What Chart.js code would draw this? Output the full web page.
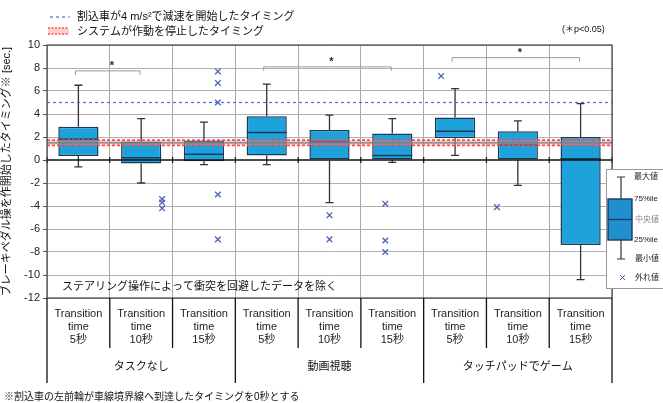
<!DOCTYPE html>
<html><head><meta charset="utf-8">
<script src="https://cdn.jsdelivr.net/npm/chart.js@4/dist/chart.umd.min.js"></script>
<style>html,body{margin:0;padding:0;background:#fff;}#wrap{width:663px;height:403px;position:relative;}</style>
</head><body><div id="wrap"><canvas id="c" width="663" height="403"></canvas></div>
<script>
const categories = [["Transition","time","5秒"],["Transition","time","10秒"],["Transition","time","15秒"],
  ["Transition","time","5秒"],["Transition","time","10秒"],["Transition","time","15秒"],
  ["Transition","time","5秒"],["Transition","time","10秒"],["Transition","time","15秒"]];
const groups = ["タスクなし","動画視聴","タッチパッドでゲーム"];
const whiskerMax = [6.5, 3.6, 3.3, 6.6, 3.9, 3.6, 6.2, 3.4, 4.9];
const q3 =         [2.9, 1.6, 1.7, 3.8, 2.6, 2.3, 3.7, 2.5, 2.0];
const median =     [1.8, 0.2, 0.5, 2.4, 1.6, 0.4, 2.5, 1.3, 0.1];
const q1 =         [0.35,-0.3,-0.1,0.4, 0.0, 0.0, 1.9, 0.0, -7.4];
const whiskerMin = [-0.6,-2.0,-0.4,-0.4,-3.7,-0.2,0.4,-2.2,-10.4];
const outliers = [[], [-3.4,-3.7,-4.2], [7.7,6.7,5.0,-3.0,-6.9], [], [-4.8,-6.9], [-3.8,-7.0,-8.0], [7.3], [-4.1], []];
const yTicks = [10,8,6,4,2,0,-2,-4,-6,-8,-10,-12];
const decelLine = 5.0;
const systemStop = [1.27, 1.5, 1.73];
const sigBrackets = [[0,1,7.75],[3,5,8.1],[6,8,8.9]];

const JP = '"Liberation Sans","Noto Sans CJK JP",sans-serif';
const boxFill = '#1ea2dc', boxEdge = '#1b3a58', crossCol = '#4a63b8';

const outlierPts = [];
outliers.forEach((arr,i)=>arr.forEach(v=>outlierPts.push({x:i,y:v})));

const deco = {
  id:'deco',
  beforeDatasetsDraw(chart){
    const {ctx, chartArea:a, scales:{x,y}} = chart;
    ctx.save();
    ctx.strokeStyle = '#333'; ctx.lineWidth = 1.3;
    for(let i=0;i<categories.length;i++){
      const cx = x.getPixelForValue(i);
      const yt = y.getPixelForValue(whiskerMax[i]), yb = y.getPixelForValue(whiskerMin[i]);
      const y3 = y.getPixelForValue(q3[i]), y1 = y.getPixelForValue(q1[i]);
      ctx.beginPath();
      ctx.moveTo(cx,yt); ctx.lineTo(cx,y3);
      ctx.moveTo(cx,y1); ctx.lineTo(cx,yb);
      ctx.moveTo(cx-4,yt); ctx.lineTo(cx+4,yt);
      ctx.moveTo(cx-4,yb); ctx.lineTo(cx+4,yb);
      ctx.stroke();
    }
    ctx.restore();
  },
  afterDatasetsDraw(chart){
    const {ctx, chartArea:a, scales:{x,y}} = chart;
    ctx.save();
    const meta = chart.getDatasetMeta(0);
    ctx.strokeStyle = boxEdge; ctx.lineWidth = 1.5;
    meta.data.forEach((bar,i)=>{
      const w = bar.width; const ym = y.getPixelForValue(median[i]);
      ctx.beginPath(); ctx.moveTo(bar.x-w/2, ym); ctx.lineTo(bar.x+w/2, ym); ctx.stroke();
    });
    const yd = y.getPixelForValue(decelLine);
    ctx.strokeStyle = '#4a72c4'; ctx.lineWidth = 1.2; ctx.setLineDash([3,3]);
    ctx.beginPath(); ctx.moveTo(a.left,yd); ctx.lineTo(a.right,yd); ctx.stroke();
    const yb1 = y.getPixelForValue(systemStop[0]), yb2 = y.getPixelForValue(systemStop[2]), ybm = y.getPixelForValue(systemStop[1]);
    ctx.setLineDash([]);
    ctx.fillStyle = 'rgba(255,160,160,0.35)';
    ctx.fillRect(a.left, yb2, a.right-a.left, yb1-yb2);
    ctx.strokeStyle = 'rgba(120,120,120,0.75)'; ctx.lineWidth = 2.2;
    ctx.beginPath(); ctx.moveTo(a.left,ybm); ctx.lineTo(a.right,ybm); ctx.stroke();
    ctx.strokeStyle = '#ff4a4a'; ctx.lineWidth = 1.6; ctx.setLineDash([3,2]);
    ctx.beginPath(); ctx.moveTo(a.left,yb1); ctx.lineTo(a.right,yb1);
    ctx.moveTo(a.left,yb2); ctx.lineTo(a.right,yb2); ctx.stroke();
    ctx.setLineDash([]);
    const y0 = y.getPixelForValue(0);
    ctx.strokeStyle = '#111'; ctx.lineWidth = 1.5;
    ctx.beginPath(); ctx.moveTo(a.left,y0); ctx.lineTo(a.right,y0); ctx.stroke();
    ctx.lineWidth = 1.2;
    for(let i=0;i<=categories.length;i++){
      const bx = a.left + (a.right-a.left)*i/categories.length;
      ctx.beginPath(); ctx.moveTo(bx,y0-3); ctx.lineTo(bx,y0+3); ctx.stroke();
    }
    ctx.strokeStyle = '#444'; ctx.lineWidth = 1.2;
    ctx.strokeRect(a.left, a.top, a.right-a.left, a.bottom-a.top);
    ctx.strokeStyle = '#9a9a9a'; ctx.lineWidth = 1;
    ctx.fillStyle = '#222'; ctx.font = 'bold 11px '+JP; ctx.textAlign='center'; ctx.textBaseline='middle';
    sigBrackets.forEach(([f,t,v])=>{
      const x1 = x.getPixelForValue(f)-3, x2 = x.getPixelForValue(t)-1, yy = y.getPixelForValue(v);
      ctx.beginPath(); ctx.moveTo(x1,yy+4); ctx.lineTo(x1,yy); ctx.lineTo(x2,yy); ctx.lineTo(x2,yy+4); ctx.stroke();
      ctx.fillText('*', (x1+x2)/2+4, yy-5);
    });
    ctx.fillStyle = '#111'; ctx.font = '11px '+JP; ctx.textAlign='left';
    ctx.fillText('ステアリング操作によって衝突を回避したデータを除く', a.left+15, y.getPixelForValue(-11.05));
    ctx.strokeStyle = '#111'; ctx.lineWidth = 1.3;
    const n = categories.length;
    for(let i=0;i<=n;i++){
      const bx = a.left + (a.right-a.left)*i/n;
      const isGroup = (i%3===0);
      ctx.beginPath(); ctx.moveTo(bx,a.bottom); ctx.lineTo(bx, isGroup? a.bottom+85 : a.bottom+50); ctx.stroke();
    }
    ctx.font = '11px '+JP; ctx.textAlign='center';
    groups.forEach((g,i)=>{
      const gx = a.left + (a.right-a.left)*(i*3+1.5)/n;
      ctx.fillText(g, gx, a.bottom+69);
    });
    ctx.textAlign='left'; ctx.font='10px '+JP;
    ctx.fillText('※割込車の左前輪が車線境界線へ到達したタイミングを0秒とする', 4, 397);
    ctx.font = '11px '+JP;
    ctx.strokeStyle = '#4a72c4'; ctx.lineWidth=1.2; ctx.setLineDash([3,3]);
    ctx.beginPath(); ctx.moveTo(50,17); ctx.lineTo(70,17); ctx.stroke();
    ctx.setLineDash([]);
    ctx.fillStyle='#111';
    ctx.fillText('割込車が4 m/s²で減速を開始したタイミング', 77, 17);
    ctx.fillStyle='rgba(255,160,160,0.5)'; ctx.fillRect(48,28,21,6);
    ctx.strokeStyle='#ff4a4a'; ctx.lineWidth=1.3; ctx.setLineDash([2,1.5]);
    ctx.beginPath(); ctx.moveTo(48,28); ctx.lineTo(69,28); ctx.moveTo(48,34); ctx.lineTo(69,34); ctx.stroke();
    ctx.setLineDash([]);
    ctx.fillStyle='#111';
    ctx.fillText('システムが作動を停止したタイミング', 77, 32);
    ctx.font='9px '+JP;
    ctx.fillText('(＊p<0.05)', 562, 30);
    ctx.fillStyle='#fff'; ctx.fillRect(606,169,60,119);
    ctx.strokeStyle='#999'; ctx.lineWidth=1; ctx.strokeRect(606.5,169.5,60,119);
    ctx.strokeStyle='#333'; ctx.lineWidth=1.2;
    ctx.beginPath(); ctx.moveTo(621,177); ctx.lineTo(621,259);
    ctx.moveTo(617,177); ctx.lineTo(625,177); ctx.moveTo(617,259); ctx.lineTo(625,259); ctx.stroke();
    ctx.fillStyle='#1f8fd0'; ctx.fillRect(608,199,24,41);
    ctx.strokeStyle=boxEdge; ctx.lineWidth=1.4; ctx.strokeRect(608,199,24,41);
    ctx.beginPath(); ctx.moveTo(608,219.5); ctx.lineTo(632,219.5); ctx.stroke();
    ctx.font='8px '+JP; ctx.textAlign='left'; ctx.fillStyle='#222';
    ctx.fillText('最大値',634,177);
    ctx.fillText('75%ile',634,199);
    ctx.fillStyle='#888'; ctx.fillText('中央値',635,220);
    ctx.fillStyle='#222'; ctx.fillText('25%ile',634,240);
    ctx.fillText('最小値',635,259);
    ctx.fillText('外れ値',635,278);
    ctx.strokeStyle=crossCol; ctx.lineWidth=1;
    ctx.beginPath(); ctx.moveTo(620,275); ctx.lineTo(625,280); ctx.moveTo(625,275); ctx.lineTo(620,280); ctx.stroke();
    ctx.restore();
  }
};

new Chart(document.getElementById('c'), {
  type:'bar',
  data:{
    labels: categories,
    datasets:[
      {type:'bar', data: q1.map((v,i)=>[v,q3[i]]), backgroundColor: boxFill, borderColor: boxEdge,
       borderWidth:1.5, borderSkipped:false, barPercentage:0.64, categoryPercentage:1, grouped:false, order:2},
      {type:'scatter', xAxisID:'xl', data: outlierPts, pointStyle:'crossRot', radius:4, borderColor: crossCol,
       backgroundColor: crossCol, borderWidth:1.3, order:1}
    ]
  },
  plugins:[deco],
  options:{
    responsive:false, animation:false,
    layout:{padding:{top:45,right:51,left:0,bottom:0}},
    plugins:{legend:{display:false}, tooltip:{enabled:false}},
    scales:{
      x:{type:'category', offset:true,
        grid:{display:true, offset:true, color:'#a8a8a8', drawTicks:false},
        border:{display:false},
        ticks:{font:{size:11, family:JP}, color:'#222', padding:9, maxRotation:0, autoSkip:false},
        afterFit(s){ s.height = 105; }
      },
      xl:{type:'linear', min:-0.5, max:8.5, display:false, position:'bottom'},
      y:{min:-12, max:10,
        afterBuildTicks(s){ s.ticks = yTicks.map(v=>({value:v})); },
        grid:{color:(c)=> c.tick && c.tick.value===0 ? 'rgba(0,0,0,0)' : '#b0b0b0', tickLength:4, tickColor:'#555'},
        border:{display:false},
        ticks:{font:{size:11, family:JP}, color:'#222', padding:3},
        title:{display:true, text:'ブレーキペダル操を作開始したタイミング※ [sec.]', font:{size:11, family:JP}, color:'#111', padding:{top:0,bottom:2}},
        afterFit(s){ s.width = 47; }
      }
    }
  }
});
</script></body></html>
